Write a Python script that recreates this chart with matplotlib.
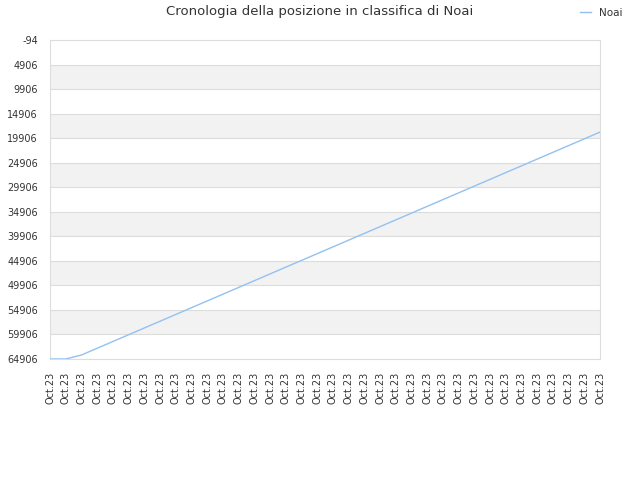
import matplotlib
matplotlib.use("Agg")
import matplotlib.pyplot as plt

labels = ["Oct.23"] * 36
positions = [64906, 64906, 64095, 62718, 61342, 59965, 58589, 57212, 55836, 54459,
             53083, 51706, 50330, 48953, 47577, 46200, 44824, 43447, 42071, 40694,
             39318, 37941, 36565, 35188, 33812, 32435, 31059, 29682, 28306, 26929,
             25553, 24176, 22800, 21423, 20047, 18670]
yticks = [-94, 4906, 9906, 14906, 19906, 24906, 29906, 34906, 39906, 44906,
          49906, 54906, 59906, 64906]
series_name = "Noai"
title = "Cronologia della posizione in classifica di Noai"

fig = plt.figure(figsize=(6.4, 4.8), dpi=100)
ax = fig.add_axes([50/640, 1-359/480, 550/640, 319/480])

xs = list(range(len(positions)))
for i in range(len(yticks) - 1):
    if i % 2 == 1:
        ax.axhspan(yticks[i], yticks[i+1], color="#f2f2f2", zorder=0, lw=0)
for t in yticks:
    ax.axhline(t, color="#dddddd", lw=0.8, zorder=1)

ax.plot(xs, positions, color="#92c1f2", lw=1, zorder=3, label=series_name)

ax.set_xlim(0, len(positions) - 1)
ax.set_ylim(64906, -94)
ax.set_yticks(yticks)
ax.set_yticklabels([str(t) for t in yticks], fontsize=7, color="#333333")
ax.set_xticks(xs)
ax.set_xticklabels(labels, rotation=90, fontsize=7, color="#333333")
ax.tick_params(axis="y", length=0, pad=8.6)
ax.tick_params(axis="x", length=0, pad=9)
for s in ax.spines.values():
    s.set_color("#dddddd")
    s.set_linewidth(0.8)

fig.text(0.5, 1-12/480, title, ha="center", va="center", fontsize=9.5, color="#333333")
leg = fig.legend(loc="center right", bbox_to_anchor=(632/640, 1-13/480), frameon=False,
                 fontsize=7.5, handlelength=1.0, handletextpad=0.8)
for t in leg.get_texts():
    t.set_color("#333333")

fig.savefig("out.png", dpi=100)
